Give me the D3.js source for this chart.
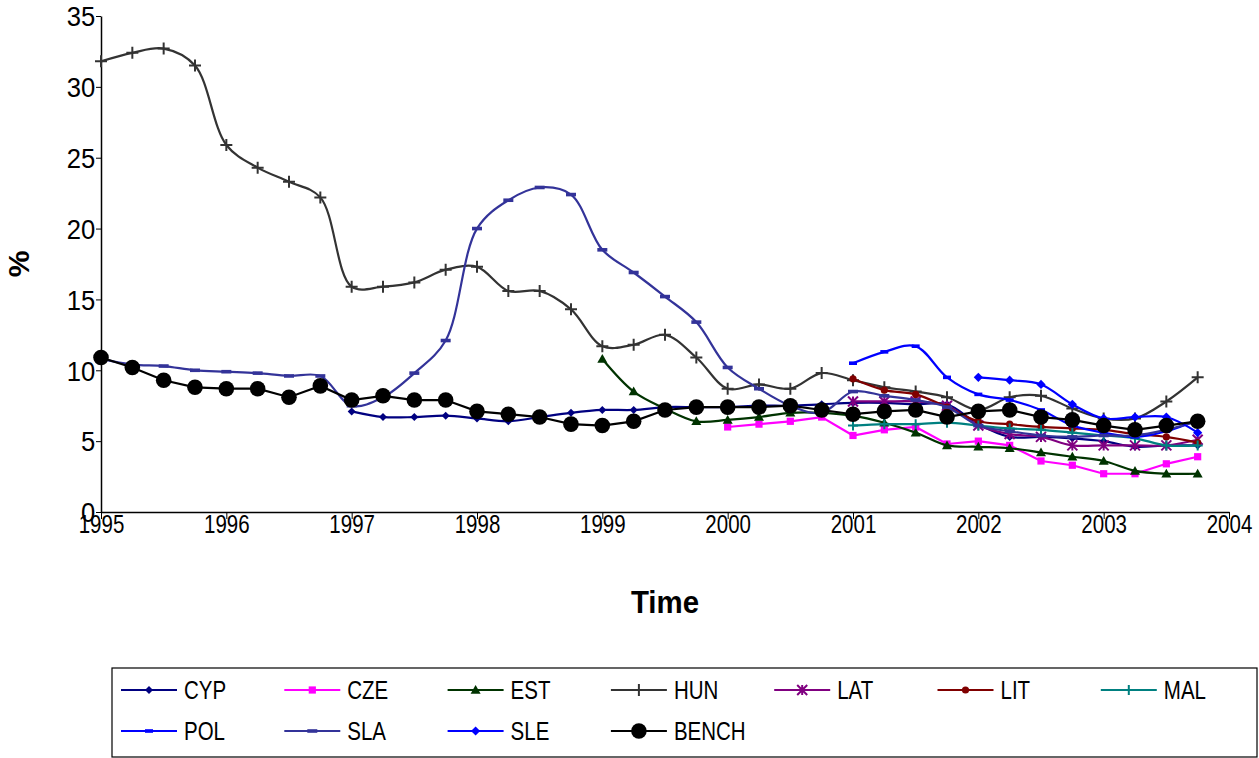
<!DOCTYPE html>
<html>
<head>
<meta charset="utf-8">
<script src="https://cdn.jsdelivr.net/npm/d3@7"></script>
<style>
  body { margin: 0; background: #fff; }
  text { font-family: "Liberation Sans", Arial, sans-serif; fill: #000; }
</style>
</head>
<body>
<svg id="chart" width="1259" height="758"></svg>
<script>
// quarterly observations, 1995Q1 .. 2003Q4
var quarters = ["1995Q1","1995Q2","1995Q3","1995Q4","1996Q1","1996Q2","1996Q3","1996Q4",
                "1997Q1","1997Q2","1997Q3","1997Q4","1998Q1","1998Q2","1998Q3","1998Q4",
                "1999Q1","1999Q2","1999Q3","1999Q4","2000Q1","2000Q2","2000Q3","2000Q4",
                "2001Q1","2001Q2","2001Q3","2001Q4","2002Q1","2002Q2","2002Q3","2002Q4",
                "2003Q1","2003Q2","2003Q3","2003Q4"];
var yearTicks = [1995, 1996, 1997, 1998, 1999, 2000, 2001, 2002, 2003, 2004];
var valueTicks = [0, 5, 10, 15, 20, 25, 30, 35];

var seriesNames = ["CYP", "CZE", "EST", "HUN", "LAT", "LIT", "MAL", "POL", "SLA", "SLE", "BENCH"];
// first quarter of each series
var seriesStart = ["1997Q1", "2000Q1", "1999Q1", "1995Q1", "2001Q1", "2001Q1", "2001Q1", "2001Q1", "1995Q1", "2002Q1", "1995Q1"];

var cyp = [7.1, 6.7, 6.7, 6.8, 6.6, 6.4, 6.7, 7.0, 7.2, 7.2, 7.4, 7.4, 7.4, 7.5, 7.5, 7.6,
           7.7, 7.7, 7.6, 7.6, 6.2, 5.3, 5.3, 5.2, 5.0, 4.6, 4.7, 4.7];
var cze = [6.0, 6.2, 6.4, 6.7, 5.4, 5.8, 6.0, 4.8, 5.0, 4.7, 3.6, 3.3, 2.7, 2.7, 3.4, 3.9];
var est = [10.8, 8.5, 7.3, 6.4, 6.5, 6.7, 7.0, 7.0, 6.8, 6.3, 5.6, 4.7, 4.6, 4.5, 4.2, 3.9,
           3.6, 2.9, 2.7, 2.7];
var hun = [31.8, 32.4, 32.7, 31.5, 25.9, 24.3, 23.3, 22.2, 15.9, 15.9, 16.2, 17.1,
           17.3, 15.6, 15.6, 14.3, 11.7, 11.8, 12.5, 10.9, 8.7, 9.0, 8.7, 9.8,
           9.3, 8.8, 8.5, 8.1, 7.2, 8.1, 8.2, 7.3, 6.6, 6.6, 7.8, 9.5];
var lat = [7.8, 7.8, 7.8, 7.5, 6.1, 5.5, 5.3, 4.7, 4.7, 4.7, 4.7, 5.1];
var lit = [9.4, 8.6, 8.3, 7.4, 6.4, 6.2, 6.0, 5.9, 5.8, 5.5, 5.3, 4.9];
var mal = [6.1, 6.2, 6.2, 6.3, 6.1, 5.9, 5.8, 5.6, 5.4, 5.2, 4.7, 4.7];
var pol = [10.5, 11.3, 11.7, 9.5, 8.3, 7.9, 7.2, 6.1, 5.6, 5.3, 5.7, 6.5];
var sla = [10.8, 10.4, 10.3, 10.0, 9.9, 9.8, 9.6, 9.6, 7.5, 8.1, 9.8, 12.1,
           20.0, 22.0, 22.9, 22.4, 18.5, 16.9, 15.2, 13.4, 10.2, 8.7, 7.5, 7.0,
           8.5, 8.2, 7.9, 7.4, 6.1, 5.7, 5.4, 5.3, 5.4, 5.4, 5.8, 6.4];
var sle = [9.5, 9.3, 9.0, 7.6, 6.6, 6.7, 6.7, 5.6];
var bench = [10.9, 10.2, 9.3, 8.8, 8.7, 8.7, 8.1, 8.9, 7.9, 8.2, 7.9, 7.9,
             7.1, 6.9, 6.7, 6.2, 6.1, 6.4, 7.2, 7.4, 7.4, 7.4, 7.5, 7.2,
             6.9, 7.1, 7.2, 6.7, 7.1, 7.2, 6.7, 6.5, 6.1, 5.8, 6.1, 6.4];
var seriesValues = [cyp, cze, est, hun, lat, lit, mal, pol, sla, sle, bench];

// look of each series (same order as seriesNames)
var styles = [
  {color: "#000080", marker: "diamond",  size: 4,   smooth: true},
  {color: "#FF00FF", marker: "square",   size: 3.6, smooth: false},
  {color: "#003300", marker: "triangle", size: 5,   smooth: true},
  {color: "#333333", marker: "plus",     size: 6,   smooth: true},
  {color: "#800080", marker: "asterisk", size: 5,   smooth: true},
  {color: "#800000", marker: "circle",   size: 3.6, smooth: true},
  {color: "#008080", marker: "plus",     size: 5,   smooth: true},
  {color: "#0000FF", marker: "dash",     size: 4,   smooth: true},
  {color: "#333399", marker: "dash",     size: 5,   smooth: true},
  {color: "#0000FF", marker: "diamond",  size: 4.6, smooth: true},
  {color: "#000000", marker: "circle",   size: 7.8, smooth: false}
];

var plotLeft = 101, plotRight = 1229, plotTop = 16, plotBottom = 512;
var squeeze = 0.82;   // the picture's text is narrower than plain Arial

var svg = d3.select("#chart");

function quarterToYear(q) {
  return +q.slice(0, 4) + (+q.slice(5) - 1) / 4;
}

var x = d3.scaleLinear().domain([1995, 2004]).range([plotLeft, plotRight]);
var y = d3.scaleLinear().domain([0, 35]).range([plotBottom, plotTop]);

//x axis
var xAxis = svg.append("g")
    .attr("transform", "translate(0," + plotBottom + ")")
    .call(d3.axisBottom(x).tickValues(yearTicks).tickFormat(d3.format("d")).tickSize(7).tickSizeOuter(0));
xAxis.select(".domain").attr("stroke", "#000").attr("stroke-width", 1.5);
xAxis.selectAll(".tick line").attr("stroke", "#000").attr("stroke-width", 1);
xAxis.selectAll(".tick text")
    .attr("y", 21)
    .attr("dy", "0")
    .attr("transform", "scale(" + squeeze + ",1)")
    .style("font-size", "25px")
    .attr("fill", "#000")
    .style("font-family", "'Liberation Sans', Arial, sans-serif");

//y axis
var yAxis = svg.append("g")
    .attr("transform", "translate(" + plotLeft + ",0)")
    .call(d3.axisLeft(y).tickValues(valueTicks).tickSize(5).tickSizeOuter(0));
yAxis.select(".domain").attr("stroke", "#000").attr("stroke-width", 1.5);
yAxis.selectAll(".tick line").attr("stroke", "#000").attr("stroke-width", 1);
yAxis.selectAll(".tick text")
    .attr("x", -6)
    .attr("dy", "0.36em")
    .attr("transform", "scale(0.95,1)")
    .style("font-size", "27px")
    .attr("fill", "#000")
    .style("font-family", "'Liberation Sans', Arial, sans-serif");

//axis titles
svg.append("text")
    .attr("transform", "translate(" + ((plotLeft + plotRight) / 2) + ",613) scale(0.95,1)")
    .attr("text-anchor", "middle")
    .style("font-size", "31px")
    .style("font-weight", "bold")
    .text("Time");

svg.append("text")
    .attr("transform", "translate(29," + ((plotTop + plotBottom) / 2) + ") rotate(-90)")
    .attr("text-anchor", "middle")
    .style("font-size", "30px")
    .style("font-weight", "bold")
    .text("%");

function drawMarker(g, style) {
  var s = style.size;
  if (style.marker == "circle") {
    g.append("circle").attr("r", s).attr("fill", style.color);
  } else if (style.marker == "diamond") {
    g.append("path").attr("d", "M0," + (-s) + "L" + s + ",0L0," + s + "L" + (-s) + ",0Z").attr("fill", style.color);
  } else if (style.marker == "square") {
    g.append("rect").attr("x", -s).attr("y", -s).attr("width", 2 * s).attr("height", 2 * s).attr("fill", style.color);
  } else if (style.marker == "triangle") {
    g.append("path").attr("d", "M0," + (-s) + "L" + s + "," + (s * 0.75) + "L" + (-s) + "," + (s * 0.75) + "Z").attr("fill", style.color);
  } else if (style.marker == "plus") {
    g.append("path").attr("d", "M" + (-s) + ",0H" + s + "M0," + (-s) + "V" + s)
        .attr("stroke", style.color).attr("stroke-width", 2).attr("fill", "none");
  } else if (style.marker == "asterisk") {
    g.append("path").attr("d", "M" + (-s) + "," + (-s) + "L" + s + "," + s + "M" + (-s) + "," + s + "L" + s + "," + (-s) + "M0," + (-s) + "V" + s)
        .attr("stroke", style.color).attr("stroke-width", 2).attr("fill", "none");
  } else if (style.marker == "dash") {
    g.append("rect").attr("x", -s).attr("y", -1.8).attr("width", 2 * s).attr("height", 3.6).attr("fill", style.color);
  }
}

//series, BENCH drawn last so it sits on top
var plot = svg.append("g");
seriesNames.forEach(function(name, i) {
  var startIndex = quarters.indexOf(seriesStart[i]);
  var points = seriesValues[i].map(function(v, k) {
    return {t: quarterToYear(quarters[startIndex + k]), v: v};
  });
  var line = d3.line()
      .x(function(d) { return x(d.t); })
      .y(function(d) { return y(d.v); })
      .curve(styles[i].smooth ? d3.curveCatmullRom.alpha(0.5) : d3.curveLinear);

  var g = plot.append("g").attr("class", "series-" + name);
  g.append("path")
      .datum(points)
      .attr("d", line)
      .attr("fill", "none")
      .attr("stroke", styles[i].color)
      .attr("stroke-width", 2.2);

  g.selectAll("g.mk")
      .data(points)
      .enter().append("g")
      .attr("class", "mk")
      .attr("transform", function(d) { return "translate(" + x(d.t) + "," + y(d.v) + ")"; })
      .each(function() { drawMarker(d3.select(this), styles[i]); });
});

//legend
var legendLeft = 112, legendTop = 668;
svg.append("rect")
    .attr("x", legendLeft)
    .attr("y", legendTop)
    .attr("width", 1145)
    .attr("height", 89)
    .attr("fill", "white")
    .attr("stroke", "#000")
    .attr("stroke-width", 1.2);

var perRow = 7, colStep = 163.3, rowStep = 41;
seriesNames.forEach(function(name, i) {
  var col = i % perRow, row = Math.floor(i / perRow);
  var lx = legendLeft + 9 + col * colStep;
  var ly = legendTop + 22 + row * rowStep;
  var g = svg.append("g").attr("transform", "translate(" + lx + "," + ly + ")");
  g.append("line").attr("x1", 0).attr("x2", 56).attr("y1", 0).attr("y2", 0)
      .attr("stroke", styles[i].color).attr("stroke-width", 2.2);
  var m = g.append("g").attr("transform", "translate(28,0)");
  drawMarker(m, styles[i]);
  g.append("text")
      .attr("transform", "translate(63,9) scale(" + squeeze + ",1)")
      .style("font-size", "25px")
      .text(name);
});
</script>
</body>
</html>
